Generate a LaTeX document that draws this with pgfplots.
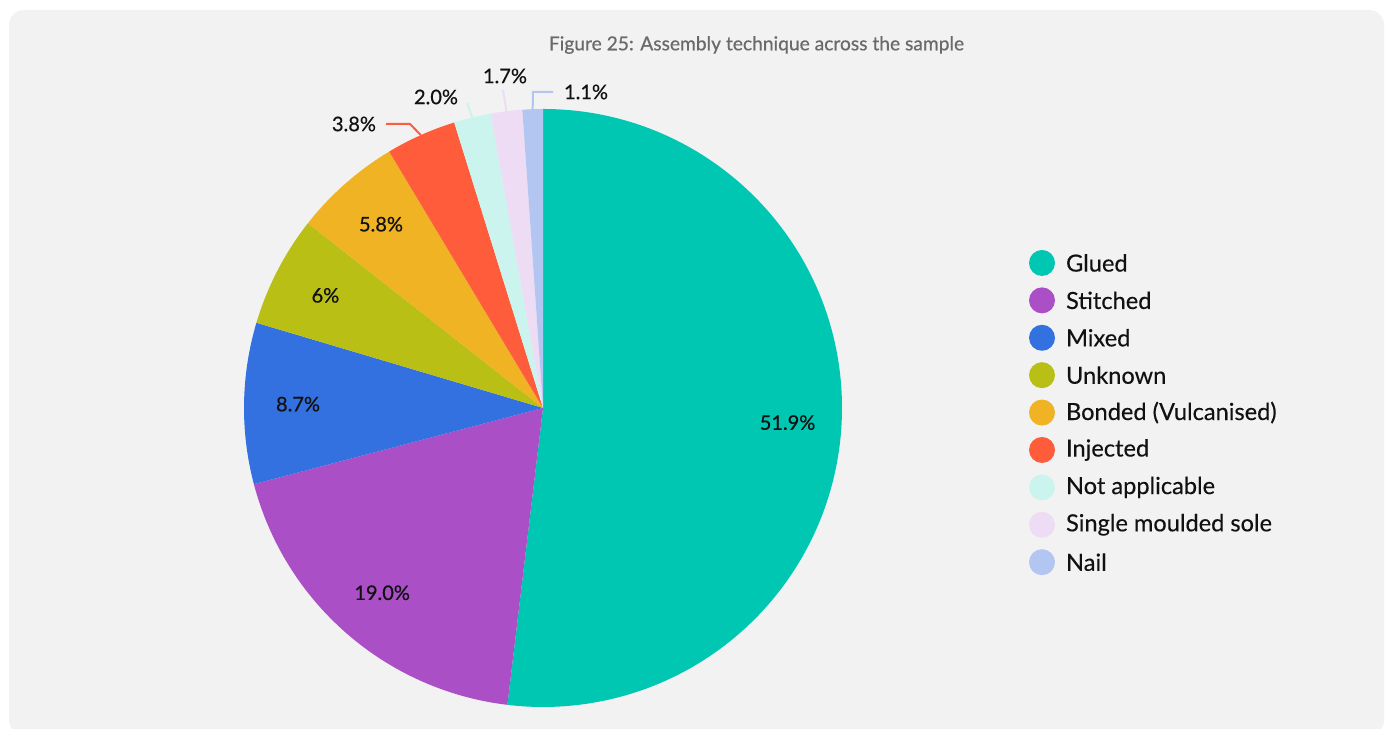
\documentclass[border=0pt]{standalone}
\usepackage{pgfplots}
\pgfplotsset{compat=1.18}
\usepackage{fontspec}
\setmainfont{Lato}
\newfontfamily\medfont{Lato}[FakeBold=0.6]
\newfontfamily\legfont{Lato}[FakeBold=0.25]
\definecolor{cardbg}{HTML}{F2F2F2}
\definecolor{titlegray}{HTML}{6A6A6A}
\definecolor{txt}{HTML}{111111}
\definecolor{cGlued}{HTML}{00C7B1}
\definecolor{cStitched}{HTML}{AB4FC6}
\definecolor{cMixed}{HTML}{3370E0}
\definecolor{cUnknown}{HTML}{B9BF15}
\definecolor{cBonded}{HTML}{F0B323}
\definecolor{cInjected}{HTML}{FF5C3B}
\definecolor{cNA}{HTML}{CCF4EF}
\definecolor{cSingle}{HTML}{EEDCF4}
\definecolor{cNail}{HTML}{B3C6F2}
\begin{document}
\begin{tikzpicture}
\begin{axis}[width=694.5pt,height=364.5pt,scale only axis,
  xmin=0,xmax=1389,ymin=0,ymax=729,hide axis,clip=false]
\pgfplotsextra{
  \fill[white] (axis cs:0,0) rectangle (axis cs:1389,729);
  \fill[cardbg, rounded corners=7.5pt] (axis cs:9,-6) rectangle (axis cs:1384,719);
  \fill[white] (axis cs:0,-8) rectangle (axis cs:1389,0);
  \node[text=titlegray, font=\medfont\fontsize{9.6pt}{11pt}\selectfont] at (axis cs:756.5,684) {Figure 25: Assembly technique across the sample};
  \xdef\cum{0}
  \foreach \v/\c/\n/\l [count=\i from 0] in {
      51.9/cGlued/Glued/51.9\%,
      19.0/cStitched/Stitched/19.0\%,
      8.7/cMixed/Mixed/8.7\%,
      6.0/cUnknown/Unknown/6\%,
      5.8/cBonded/Bonded (Vulcanised)/5.8\%,
      3.8/cInjected/Injected/3.8\%,
      2.0/cNA/Not applicable/2.0\%,
      1.7/cSingle/Single moulded sole/1.7\%,
      1.1/cNail/Nail/1.1\%} {
    \pgfmathsetmacro\sa{90-3.6*\cum}
    \pgfmathsetmacro\ea{90-3.6*(\cum+\v)}
    \pgfmathsetmacro\ma{(\sa+\ea)/2}
    \fill[\c] (axis cs:543,321) -- ++(\sa:149.5pt) arc[start angle=\sa, end angle=\ea, radius=149.5pt] -- cycle;
    \ifnum\i<5
      \path (axis cs:543,321) ++(\ma:122.5pt) node[text=txt, font=\medfont\fontsize{10pt}{12pt}\selectfont] {\l};
    \fi
    \ifnum\i=5
      \draw[\c, line width=1pt] (axis cs:543,321) ++(\ma:149.5pt) -- (axis cs:410,605) -- (axis cs:386,605);
      \node[text=txt, anchor=east, font=\medfont\fontsize{10pt}{12pt}\selectfont] at (axis cs:383,605) {\l};
    \fi
    \ifnum\i=6
      \draw[\c, line width=1pt] (axis cs:543,321) ++(\ma:149.5pt) -- (axis cs:467,626);
      \node[text=txt, font=\medfont\fontsize{10pt}{12pt}\selectfont] at (axis cs:436,632) {\l};
    \fi
    \ifnum\i=7
      \draw[\c, line width=1pt] (axis cs:543,321) ++(\ma:149.5pt) -- (axis cs:503,639);
      \node[text=txt, font=\medfont\fontsize{10pt}{12pt}\selectfont] at (axis cs:505,653) {\l};
    \fi
    \ifnum\i=8
      \draw[\c, line width=1pt] (axis cs:543,321) ++(\ma:149.5pt) -- (axis cs:533,637) -- (axis cs:553,637);
      \node[text=txt, anchor=west, font=\medfont\fontsize{10pt}{12pt}\selectfont] at (axis cs:557,637) {\l};
    \fi
    \pgfmathsetmacro\ly{466-37.4*\i}
    \fill[\c] (axis cs:1042,\ly) circle[radius=6.5pt];
    \node[text=txt, anchor=west, font=\legfont\fontsize{11.8pt}{13pt}\selectfont] at (axis cs:1059,\ly) {\n};
    \pgfmathsetmacro\newcum{\cum+\v}
    \xdef\cum{\newcum}
  }
}
\end{axis}
\end{tikzpicture}
\end{document}
